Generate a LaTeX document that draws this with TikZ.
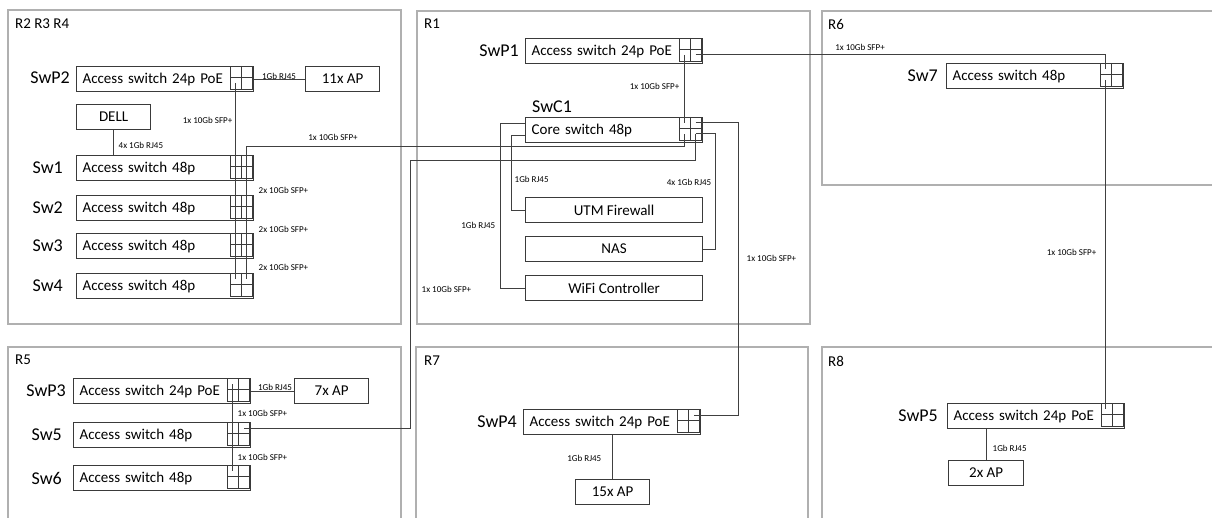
\documentclass[tikz,border=0pt]{standalone}
\usepackage{fontspec}
\setmainfont{Carlito}
\usepackage{tikz}
\usetikzlibrary{calc}

\definecolor{wire}{HTML}{404040}
\definecolor{boxline}{HTML}{3A3A3A}
\definecolor{roomgray}{HTML}{B0B0B0}

\newcommand{\devfont}{\fontsize{15}{18}\selectfont}
\newcommand{\tagfont}{\fontsize{18}{21}\selectfont}
\newcommand{\roomfont}{\fontsize{15}{18}\selectfont}
\newcommand{\cablefont}{\fontsize{9}{10}\selectfont}

% 2x2 port block on the right end of a switch, with one coordinate per port
\newcommand{\portgrid}[1]{%
  \draw[port] ($(#1.north east)+(-24,0)$) rectangle ($(#1.north east)+(-2,23)$);
  \draw[port] ($(#1.north east)+(-13,0)$) -- ($(#1.north east)+(-13,23)$);
  \draw[port] ($(#1.north east)+(-24,11.5)$) -- ($(#1.north east)+(-2,11.5)$);
  \coordinate (#1-a) at ($(#1.north east)+(-18.5,6)$);
  \coordinate (#1-b) at ($(#1.north east)+(-7.5,6)$);
  \coordinate (#1-c) at ($(#1.north east)+(-18.5,17)$);
  \coordinate (#1-d) at ($(#1.north east)+(-7.5,17)$);
}

\begin{document}
\begin{tikzpicture}[x=1pt, y=-1pt,
  room/.style={draw=roomgray, line width=1.5pt},
  swbox/.style={draw=boxline, line width=1.2pt, fill=white, anchor=north west,
    minimum height=25pt, text width=165pt, inner xsep=6pt, inner ysep=0pt,
    align=left, font=\devfont},
  devbox/.style={draw=boxline, line width=1.2pt, fill=white, anchor=north west,
    minimum height=25pt, inner sep=0pt, font=\devfont},
  port/.style={draw=boxline, line width=0.9pt},
  cable/.style={draw=wire, line width=1pt},
  lbl/.style={font=\cablefont, inner sep=0.5pt},
  swname/.style={font=\tagfont, anchor=east, inner sep=0pt},
  roomname/.style={font=\roomfont, anchor=west, inner sep=0pt}]

  \useasboundingbox (0,0) rectangle (1212,518);
  \clip (0,0) rectangle (1212,518);

  % Rooms
  \draw[room] (8,10) rectangle (401,324);
  \draw[room] (417,11) rectangle (810,324);
  \draw[room] (822,11) rectangle (1220,185);
  \draw[room] (8,347) rectangle (401,530);
  \draw[room] (416,347) rectangle (808,530);
  \draw[room] (822,347) rectangle (1220,530);
  \node[roomname] (r234) at (15,24) {R2 R3 R4};
  \node[roomname] (r1) at (424,24) {R1};
  \node[roomname] (r6) at (828,24) {R6};
  \node[roomname] (r5) at (15,360) {R5};
  \node[roomname] (r7) at (424,361) {R7};
  \node[roomname] (r8) at (828,361) {R8};

  % R2 R3 R4
  \node[swbox] (swp2) at (76,66) {Access switch 24p PoE};
  \node[devbox, minimum width=74pt] (ap11) at (305,66) {11x AP};
  \node[devbox, minimum width=74pt] (dell) at (76,104) {DELL};
  \node[swbox] (sw1) at (76,155) {Access switch 48p};
  \node[swbox] (sw2) at (76,195) {Access switch 48p};
  \node[swbox] (sw3) at (76,233) {Access switch 48p};
  \node[swbox] (sw4) at (76,273) {Access switch 48p};
  \node[swname] (n-swp2) at (70,78) {SwP2};
  \node[swname] (n-sw1) at (63,168) {Sw1};
  \node[swname] (n-sw2) at (63,208) {Sw2};
  \node[swname] (n-sw3) at (63,246) {Sw3};
  \node[swname] (n-sw4) at (63,286) {Sw4};

  % R1
  \node[swbox] (swp1) at (525,38) {Access switch 24p PoE};
  \node[swbox] (swc1) at (525,117) {Core switch 48p};
  \node[devbox, minimum width=177pt] (utm) at (525,197) {UTM Firewall};
  \node[devbox, minimum width=177pt] (nas) at (525,236) {NAS};
  \node[devbox, minimum width=177pt] (wifi) at (525,275) {WiFi Controller};
  \node[swname] (n-swp1) at (519,51) {SwP1};
  \node[swname, anchor=west] (n-swc1) at (532,107) {SwC1};

  % R6
  \node[swbox] (sw7) at (946,63) {Access switch 48p};
  \node[swname] (n-sw7) at (938,76) {Sw7};

  % R5
  \node[swbox] (swp3) at (73,378) {Access switch 24p PoE};
  \node[devbox, minimum width=74pt] (ap7) at (294,378) {7x AP};
  \node[swbox] (sw5) at (73,422) {Access switch 48p};
  \node[swbox] (sw6) at (73,465) {Access switch 48p};
  \node[swname] (n-swp3) at (66,391) {SwP3};
  \node[swname] (n-sw5) at (62,435) {Sw5};
  \node[swname] (n-sw6) at (62,478) {Sw6};

  % R7
  \node[swbox] (swp4) at (523,409) {Access switch 24p PoE};
  \node[devbox, minimum width=74pt] (ap15) at (575,479) {15x AP};
  \node[swname] (n-swp4) at (517,422) {SwP4};

  % R8
  \node[swbox] (swp5) at (947,403) {Access switch 24p PoE};
  \node[devbox, minimum width=75pt] (ap2) at (948,460) {2x AP};
  \node[swname] (n-swp5) at (938,416) {SwP5};

  % Port blocks
  \foreach \s in {swp2,sw1,sw2,sw3,sw4,swp1,swc1,sw7,swp3,sw5,sw6,swp4,swp5} {
    \portgrid{\s}
  }

  % Cabling in R2 R3 R4
  \draw[cable] (swp2.east) -- (ap11.west);
  \draw[cable] (dell.south) -- (dell.south |- sw1.north);
  \draw[cable] (swp2-c) -- (sw1-a);
  \foreach \a/\b in {sw1/sw2,sw2/sw3,sw3/sw4} {
    \draw[cable] (\a-a) -- (\b-a);
    \draw[cable] (\a-b) -- (\b-b);
  }

  % Uplinks to the core switch
  \draw[cable] (sw1-b) |- ($(swc1.south)+(0,3)$) -| (swc1-c);
  \draw[cable] (swp1-c) -- (swc1-a);
  \draw[cable] (swp1-d) -| (sw7-a);
  \draw[cable] (sw7-c) -- (sw7-c |- swp5-a);
  \draw[cable] (swc1-b) -| ($(swp4-b)+(44.5,0)$) -- (swp4-b);
  \coordinate (bendL) at (410,161);
  \draw[cable] (swc1-d) |- (bendL) |- (sw5-b);

  % Servers on the core switch
  \draw[cable] (swc1-d) -| ($(nas.east)+(12,0)$) -- (nas.east);
  \draw[cable] ($(swc1.west)+(0,5)$) -| ($(utm.west)+(-14,0)$) -- (utm.west);
  \draw[cable] ($(swc1.west)+(0,-7)$) -| ($(wifi.west)+(-25,0)$) -- (wifi.west);

  % Cabling in R5, R7, R8
  \draw[cable] (swp3.east) -- (ap7.west);
  \draw[cable] (swp3-a) -- (sw5-a);
  \draw[cable] (sw5-a) -- (sw6-a);
  \draw[cable] (ap15.north) -- (ap15.north |- swp4.south);
  \draw[cable] (ap2.north) -- (ap2.north |- swp5.south);

  % Link labels
  \node[lbl, anchor=south] (l-ap11) at (279,80) {1Gb RJ45};
  \node[lbl, anchor=east] (l-swp2) at (233,120) {1x 10Gb SFP+};
  \node[lbl, anchor=west] (l-dell) at (118,145) {4x 1Gb RJ45};
  \node[lbl] (l-sw1) at (333,137) {1x 10Gb SFP+};
  \foreach \y [count=\i] in {190,229,267} {
    \node[lbl, anchor=west] (l-stack\i) at (258,\y) {2x 10Gb SFP+};
  }
  \node[lbl, anchor=east] (l-swp1) at (680,86) {1x 10Gb SFP+};
  \node[lbl] (l-sw7) at (860,47) {1x 10Gb SFP+};
  \node[lbl, anchor=east] (l-swp5) at (1097,252) {1x 10Gb SFP+};
  \node[lbl, anchor=west] (l-ap2) at (992,448) {1Gb RJ45};
  \node[lbl, anchor=east] (l-ap15) at (602,458) {1Gb RJ45};
  \node[lbl, anchor=west] (l-swp4) at (746,258) {1x 10Gb SFP+};
  \node[lbl, anchor=east] (l-nas) at (712,182) {4x 1Gb RJ45};
  \node[lbl, anchor=west] (l-utm) at (514,179) {1Gb RJ45};
  \node[lbl, anchor=east] (l-wifi) at (496,225) {1Gb RJ45};
  \node[lbl, anchor=west] (l-sw5) at (421,289) {1x 10Gb SFP+};
  \node[lbl, anchor=south] (l-ap7) at (275,391) {1Gb RJ45};
  \node[lbl, anchor=west] (l-swp3) at (237,413) {1x 10Gb SFP+};
  \node[lbl, anchor=west] (l-sw6) at (237,457) {1x 10Gb SFP+};

\end{tikzpicture}
\end{document}
